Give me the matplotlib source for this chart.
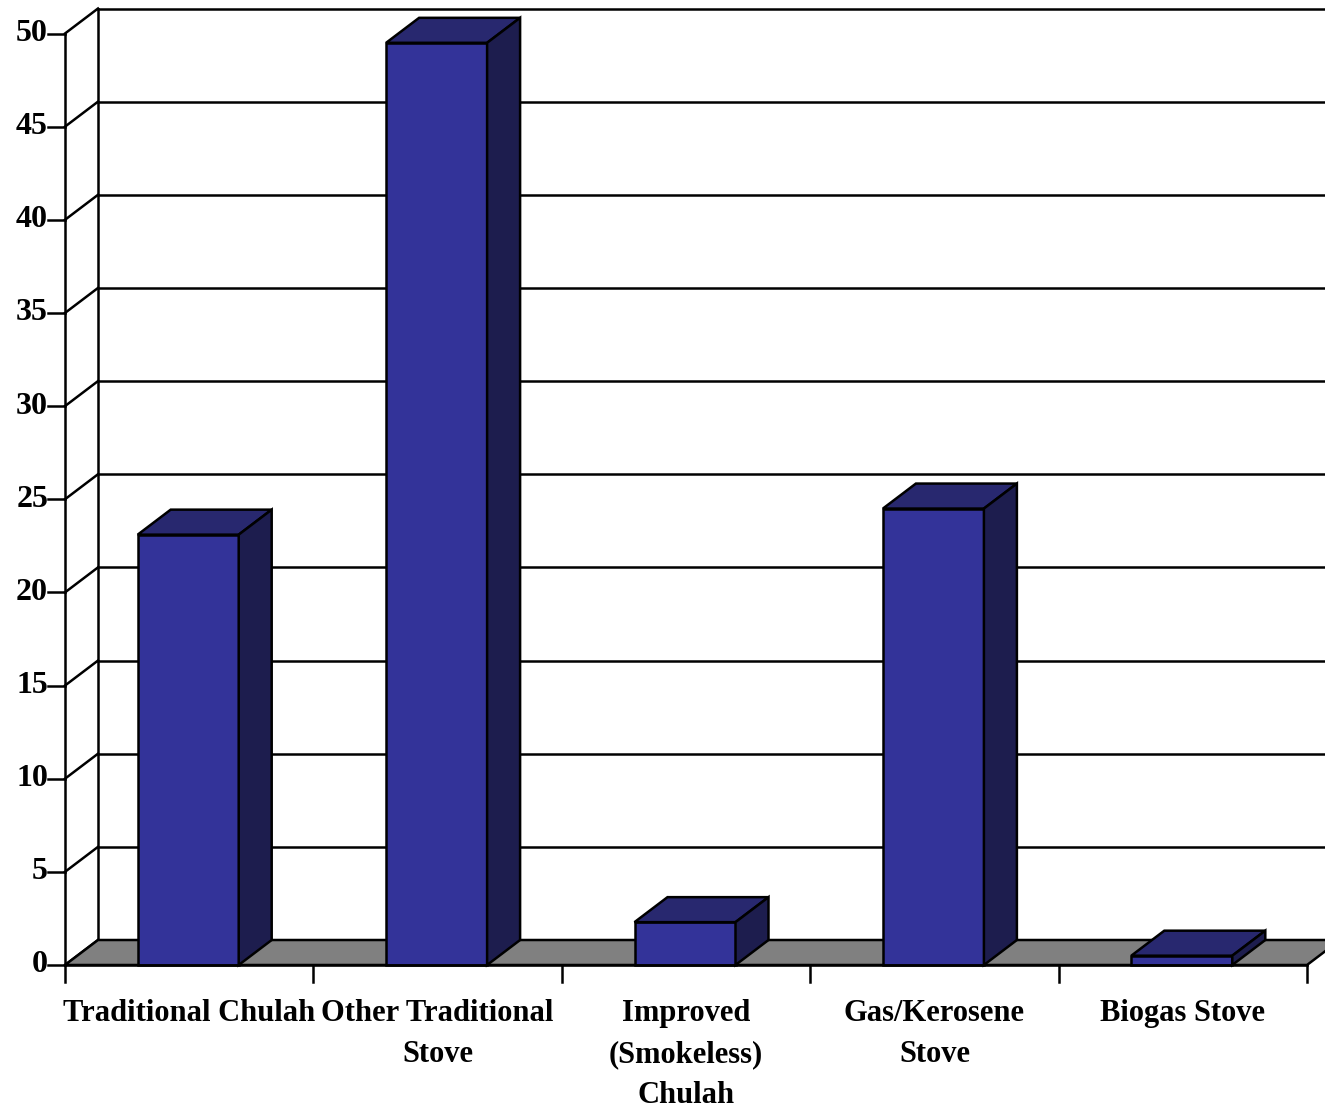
import matplotlib.pyplot as plt
from matplotlib.patches import Polygon

# stove types and share of households (%)
categories = ["Traditional Chulah", "Other Traditional\nStove",
              "Improved\n(Smokeless)\nChulah", "Gas/Kerosene\nStove", "Biogas Stove"]
values = [23.1, 49.5, 2.3, 24.5, 0.5]
y_ticks = list(range(0, 55, 5))

# pixel layout of the pseudo-3d box
W, H = 1325, 1111
X0, Y0 = 65, 965          # front-left corner of the floor
CAT_PX = 248.4            # width of one category
UNIT_PX = 18.63           # pixels per unit of value
DX = 33 / CAT_PX          # depth offset, in data units
DY = 25 / UNIT_PX
BAR_W = 101 / CAT_PX

FRONT = "#333399"
TOP = "#28286f"
SIDE = "#1d1d4e"
FLOOR = "#808080"

fig = plt.figure(figsize=(W / 100, H / 100), dpi=100)
ax = fig.add_axes([0, 0, 1, 1])
ax.set_xlim(-X0 / CAT_PX, (W - X0) / CAT_PX)
ax.set_ylim(-(H - Y0) / UNIT_PX, Y0 / UNIT_PX)
ax.axis("off")

n = len(categories)
ymax = y_ticks[-1]
lw = 1.8
font = dict(fontsize=22, fontweight="bold", family="Liberation Serif")

# back wall grid
for v in y_ticks[1:]:
    ax.plot([DX, n + DX + 1], [v + DY, v + DY], color="black", lw=lw, zorder=1)
# side wall
ax.plot([DX, DX], [DY, ymax + DY], color="black", lw=lw, zorder=1)
for v in y_ticks:
    ax.plot([0, DX], [v, v + DY], color="black", lw=lw, zorder=1)

# floor
ax.add_patch(Polygon([(0, 0), (n, 0), (n + DX, DY), (DX, DY)], closed=True,
                     facecolor=FLOOR, edgecolor="black", lw=lw, zorder=2))

# front value axis with ticks and labels
ax.plot([0, 0], [0, ymax], color="black", lw=lw, zorder=5)
tick = 17 / CAT_PX
for v in y_ticks:
    ax.plot([-tick, 0], [v, v], color="black", lw=lw, zorder=5)
    ax.text(-tick, v, str(v), ha="right", va="center", fontsize=23,
            fontweight="bold", family="Liberation Serif")

# category axis ticks
ax.plot([0, n], [0, 0], color="black", lw=lw, zorder=5)
for i in range(n + 1):
    ax.plot([i, i], [0, -17 / UNIT_PX], color="black", lw=lw, zorder=5)

# bars: front, top and right faces
for i, v in enumerate(values):
    x1 = i + 0.5 - BAR_W / 2 - 1 / CAT_PX
    x2 = x1 + BAR_W
    ax.add_patch(Polygon([(x1, 0), (x2, 0), (x2, v), (x1, v)],
                         facecolor=FRONT, edgecolor="black", lw=lw, zorder=3))
    ax.add_patch(Polygon([(x1, v), (x2, v), (x2 + DX, v + DY), (x1 + DX, v + DY)],
                         facecolor=TOP, edgecolor="black", lw=lw, zorder=3))
    ax.add_patch(Polygon([(x2, 0), (x2 + DX, DY), (x2 + DX, v + DY), (x2, v)],
                         facecolor=SIDE, edgecolor="black", lw=lw, zorder=3))

# category labels
for i, label in enumerate(categories):
    ax.text(i + 0.5, -34 / UNIT_PX, label, ha="center", va="top",
            linespacing=1.55, **font)

fig.savefig("out.png", dpi=100)
